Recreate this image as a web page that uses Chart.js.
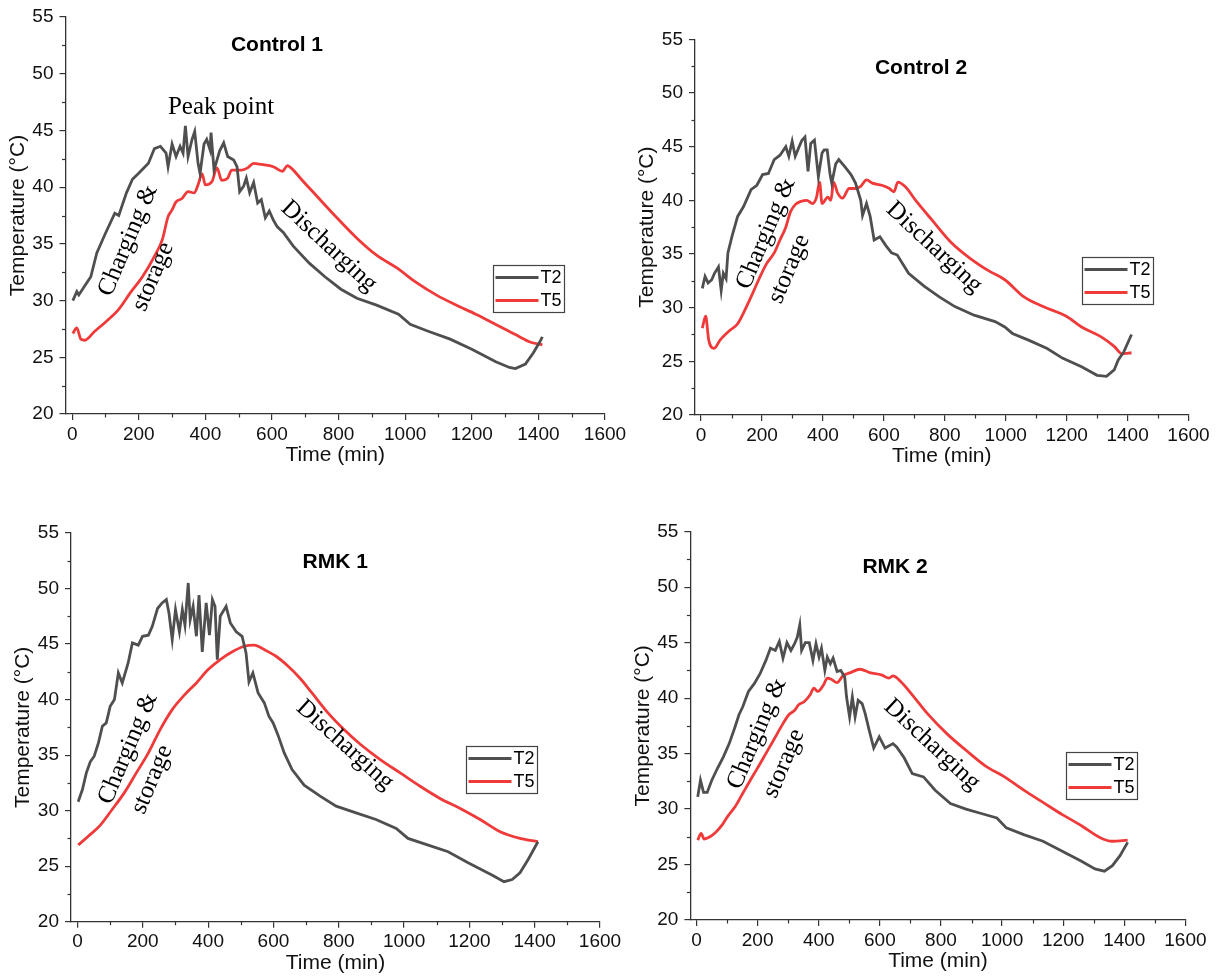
<!DOCTYPE html>
<html>
<head>
<meta charset="utf-8">
<script src="https://cdn.jsdelivr.net/npm/chart.js@4"></script>
<style>
  html, body { margin: 0; padding: 0; background: #fff; }
  #wrap { position: relative; width: 1223px; height: 979px; overflow: hidden; }
  #wrap canvas { position: absolute; left: 0; top: 0; }
</style>
</head>
<body>
<div id="wrap">
  <canvas id="c1" width="1223" height="979"></canvas>
  <canvas id="c2" width="1223" height="979"></canvas>
  <canvas id="c3" width="1223" height="979"></canvas>
  <canvas id="c4" width="1223" height="979"></canvas>
</div>
<script>
// --- Data: [time (min), temperature (°C)] ---
const control1T2 = [[2,30.0],[14,30.8],[20,30.5],[38,31.3],[56,32.1],[74,34.2],[98,35.8],[128,37.7],[140,37.5],[163,39.5],[181,40.7],[199,41.2],[229,42.1],[247,43.4],[265,43.6],[282,43.0],[288,41.8],[300,43.8],[312,42.7],[324,43.6],[333,43.0],[340,45.4],[348,42.7],[360,44.2],[368,44.9],[378,42.1],[384,41.2],[396,43.8],[404,44.2],[414,43.3],[417,44.8],[426,41.5],[435,42.4],[443,43.2],[455,43.9],[467,42.7],[485,42.4],[495,41.8],[503,39.6],[515,40.1],[523,40.8],[533,39.5],[545,40.4],[557,38.6],[568,38.9],[580,37.3],[592,37.9],[604,37.1],[616,36.5],[634,36.0],[664,34.8],[712,33.3],[759,32.1],[807,31.0],[855,30.2],[914,29.6],[980,28.8],[1015,27.9],[1069,27.3],[1135,26.6],[1200,25.7],[1272,24.6],[1313,24.1],[1331,24.0],[1361,24.4],[1385,25.4],[1403,26.3],[1412,26.8]];
const control1T5 = [[2,27.1],[14,27.6],[26,26.6],[38,26.5],[68,27.3],[104,28.2],[139,29.2],[175,30.7],[211,32.1],[247,33.9],[271,35.4],[288,37.4],[300,38.0],[312,38.7],[330,39.0],[348,39.6],[366,39.5],[378,40.2],[390,41.2],[400,40.2],[420,40.5],[435,41.7],[449,40.6],[467,40.8],[479,41.5],[509,41.5],[527,41.7],[545,42.1],[568,42.0],[604,41.8],[632,41.4],[646,41.9],[664,41.5],[688,40.7],[735,39.2],[795,37.3],[855,35.5],[914,34.0],[974,32.9],[1033,31.6],[1093,30.5],[1153,29.6],[1212,28.8],[1272,27.9],[1331,27.0],[1379,26.3],[1412,26.1]];

const control2T2 = [[4,31.8],[13,32.9],[23,32.3],[35,32.6],[44,33.2],[57,33.8],[66,31.6],[73,33.2],[82,32.7],[88,35.1],[101,36.6],[120,38.5],[139,39.4],[164,41.0],[183,41.4],[202,42.4],[221,42.5],[240,43.8],[259,44.2],[278,45.0],[288,44.1],[299,45.5],[309,44.1],[322,45.0],[331,45.6],[341,45.9],[351,42.7],[360,45.3],[372,45.6],[385,42.2],[397,44.4],[404,44.7],[414,44.7],[423,42.5],[429,41.6],[442,43.4],[452,43.8],[473,43.1],[492,42.4],[507,41.6],[524,40.0],[530,38.6],[543,39.7],[555,38.5],[568,36.3],[587,36.6],[606,35.8],[625,35.1],[644,34.9],[681,33.2],[732,32.0],[782,31.0],[833,30.1],[896,29.3],[965,28.7],[997,28.2],[1022,27.6],[1073,27.0],[1136,26.2],[1186,25.3],[1249,24.5],[1300,23.7],[1331,23.6],[1356,24.2],[1369,25.1],[1388,25.9],[1413,27.5]];
const control2T5 = [[4,28.1],[15,29.2],[25,27.0],[42,26.2],[63,27.0],[95,27.9],[120,28.5],[139,29.5],[164,31.0],[189,32.6],[215,34.1],[240,35.1],[259,36.3],[278,37.5],[293,38.9],[309,39.6],[328,39.9],[347,40.0],[366,39.7],[379,40.3],[389,41.7],[397,39.7],[416,40.3],[426,40.0],[435,41.7],[448,40.7],[464,40.2],[486,41.1],[505,41.1],[524,41.3],[543,41.9],[562,41.6],[593,41.4],[618,41.1],[633,40.8],[646,41.7],[669,41.3],[707,39.9],[757,38.2],[820,36.1],[883,34.6],[946,33.4],[997,32.6],[1060,31.0],[1123,30.1],[1199,29.2],[1249,28.2],[1312,27.3],[1356,26.4],[1382,25.7],[1413,25.8]];

const rmk1T2 = [[2,30.8],[15,31.9],[27,33.4],[39,34.4],[51,34.9],[64,36.1],[76,37.6],[88,37.9],[100,39.4],[113,40.0],[125,42.4],[137,41.5],[155,43.3],[168,45.1],[186,44.9],[199,45.7],[217,45.8],[229,46.6],[245,48.2],[259,48.7],[272,49.0],[280,47.8],[290,45.4],[300,48.1],[312,46.1],[321,48.1],[329,46.7],[339,50.5],[345,47.2],[354,48.4],[364,45.7],[372,49.4],[382,44.3],[394,48.7],[404,45.8],[413,49.0],[421,48.4],[428,43.6],[437,47.5],[455,48.4],[468,46.9],[486,46.1],[504,45.7],[516,44.2],[525,41.6],[537,42.4],[553,40.6],[572,39.7],[586,38.5],[599,37.9],[614,36.8],[633,35.2],[657,33.7],[694,32.3],[743,31.3],[792,30.4],[853,29.8],[914,29.2],[976,28.4],[1012,27.5],[1074,26.9],[1135,26.3],[1196,25.3],[1269,24.2],[1306,23.6],[1331,23.8],[1355,24.4],[1380,25.6],[1410,27.2]];
const rmk1T5 = [[2,26.9],[33,27.7],[70,28.7],[106,30.1],[143,31.6],[180,33.4],[217,35.2],[253,37.3],[290,39.1],[327,40.4],[364,41.5],[400,42.7],[437,43.6],[474,44.3],[510,44.8],[541,44.9],[572,44.5],[608,43.9],[645,43.0],[682,41.9],[718,40.6],[767,38.8],[816,37.3],[865,36.0],[927,34.6],[988,33.4],[1049,32.2],[1110,31.1],[1172,30.2],[1233,29.2],[1294,28.1],[1355,27.5],[1410,27.2]];

const rmk2T2 = [[4,31.1],[13,32.6],[23,31.5],[35,31.5],[50,32.6],[69,33.7],[88,34.7],[107,35.9],[126,37.4],[139,38.5],[151,39.2],[170,40.6],[189,41.3],[208,42.2],[227,43.4],[242,44.5],[258,44.3],[271,45.1],[283,43.6],[296,45.0],[309,44.3],[321,44.9],[330,45.5],[338,46.6],[344,44.3],[356,45.0],[369,45.0],[381,43.4],[391,44.9],[401,43.7],[409,44.5],[420,42.5],[428,43.7],[438,43.1],[447,43.6],[460,42.4],[472,42.5],[485,41.9],[491,40.1],[501,38.3],[510,40.1],[519,38.3],[529,39.8],[542,39.5],[552,38.6],[566,37.0],[580,35.5],[598,36.5],[617,35.5],[643,35.9],[655,35.6],[680,34.6],[706,33.2],[743,32.9],[781,31.7],[831,30.5],[882,30.0],[932,29.6],[983,29.2],[1014,28.3],[1071,27.7],[1134,27.1],[1197,26.2],[1260,25.3],[1304,24.6],[1335,24.4],[1361,24.9],[1386,25.8],[1411,27.0]];
const rmk2T5 = [[4,27.2],[15,27.8],[25,27.3],[44,27.5],[63,27.9],[82,28.5],[101,29.3],[126,30.2],[151,31.4],[176,32.6],[202,33.8],[227,35.0],[252,36.2],[283,37.7],[302,38.5],[321,38.9],[334,39.4],[353,39.7],[372,40.3],[384,40.9],[397,40.6],[416,41.2],[428,41.8],[441,41.7],[460,41.4],[479,42.0],[504,42.3],[535,42.6],[567,42.3],[605,42.1],[630,41.8],[643,42.0],[668,41.5],[706,40.3],[756,38.6],[819,36.8],[882,35.3],[945,33.9],[1008,32.9],[1071,31.7],[1134,30.6],[1197,29.5],[1260,28.5],[1323,27.4],[1361,27.1],[1411,27.2]];

// axis ticks
const xTickValues = [0, 200, 400, 600, 800, 1000, 1200, 1400, 1600];
const yTickValues = [20, 25, 30, 35, 40, 45, 50, 55];
const xMinorTicks = [100, 300, 500, 700, 900, 1100, 1300, 1500];
const yMinorTicks = [22.5, 27.5, 32.5, 37.5, 42.5, 47.5, 52.5];

const seriesLabels = ['T2', 'T5'];
const seriesColors = ['#4f4f4f', '#f03a3a'];

const SANS = "'Liberation Sans', Arial, sans-serif";
const SERIF = "'Liberation Serif', 'Times New Roman', serif";
const AXIS = '#333333';
const Y_AXIS_W = 60;
const X_AXIS_H = 54;

// --- Panels (layout + annotations in data coordinates) ---
const panels = [
    {
        id: 'c1', title: 'Control 1', t2: control1T2, t5: control1T5,
        area: { left: 65.5, right: 605, top: 17, bottom: 414 },
        titleAt: [615, 52.5], legendAt: [1263, 33.1],
        notes: [
            { text: 'Peak point', at: [447, 47.0], angle: 0 },
            { text: 'Charging &', at: [168, 35.3], angle: -67 },
            { text: 'storage', at: [243, 32.1], angle: -67 },
            { text: 'Discharging', at: [771, 34.8], angle: 43 }
        ]
    },
    {
        id: 'c2', title: 'Control 2', t2: control2T2, t5: control2T5,
        area: { left: 695, right: 1188.5, top: 39.3, bottom: 415 },
        titleAt: [722, 52.3], legendAt: [1250, 34.7],
        notes: [
            { text: 'Charging &', at: [213, 36.9], angle: -67 },
            { text: 'storage', at: [289, 33.6], angle: -67 },
            { text: 'Discharging', at: [765, 35.6], angle: 43 }
        ]
    },
    {
        id: 'c3', title: 'RMK 1', t2: rmk1T2, t5: rmk1T5,
        area: { left: 71, right: 600, top: 533, bottom: 921.7 },
        titleAt: [789, 52.4], legendAt: [1190, 35.8],
        notes: [
            { text: 'Charging &', at: [155, 35.6], angle: -67 },
            { text: 'storage', at: [228, 32.8], angle: -67 },
            { text: 'Discharging', at: [819, 35.9], angle: 42 }
        ]
    },
    {
        id: 'c4', title: 'RMK 2', t2: rmk2T2, t5: rmk2T5,
        area: { left: 690.4, right: 1185.4, top: 531.7, bottom: 920 },
        titleAt: [650, 51.8], legendAt: [1209, 35.1],
        notes: [
            { text: 'Charging &', at: [198, 36.8], angle: -67 },
            { text: 'storage', at: [286, 34.1], angle: -67 },
            { text: 'Discharging', at: [771, 35.8], angle: 43 }
        ]
    }
];

// --- Plugin: minor ticks, panel title, annotations, boxed legend ---
const panelText = {
    id: 'panelText',
    afterDraw(chart, args, opts) {
        const ctx = chart.ctx;
        const xs = chart.scales.x, ys = chart.scales.y;
        ctx.save();

        ctx.strokeStyle = AXIS;
        ctx.lineWidth = 1.2;
        xMinorTicks.forEach(v => {
            const px = Math.round(xs.getPixelForValue(v)) + 0.5;
            ctx.beginPath(); ctx.moveTo(px, ys.bottom); ctx.lineTo(px, ys.bottom + 3.5); ctx.stroke();
        });
        yMinorTicks.forEach(v => {
            const py = Math.round(ys.getPixelForValue(v)) + 0.5;
            ctx.beginPath(); ctx.moveTo(xs.left, py); ctx.lineTo(xs.left - 3.5, py); ctx.stroke();
        });

        ctx.fillStyle = '#000';
        ctx.textAlign = 'center';
        ctx.textBaseline = 'middle';
        ctx.font = 'bold 21px ' + SANS;
        ctx.fillText(opts.title, xs.getPixelForValue(opts.titleAt[0]), ys.getPixelForValue(opts.titleAt[1]));

        ctx.font = '25px ' + SERIF;
        opts.notes.forEach(n => {
            ctx.save();
            ctx.translate(xs.getPixelForValue(n.at[0]), ys.getPixelForValue(n.at[1]));
            ctx.rotate(n.angle * Math.PI / 180);
            ctx.fillText(n.text, 0, 0);
            ctx.restore();
        });

        // legend box
        const lx = Math.round(xs.getPixelForValue(opts.legendAt[0])) + 0.5;
        const ly = Math.round(ys.getPixelForValue(opts.legendAt[1])) + 0.5;
        ctx.strokeStyle = '#444';
        ctx.lineWidth = 1.2;
        ctx.strokeRect(lx, ly, 71, 47);
        ctx.font = '18px ' + SANS;
        ctx.textAlign = 'left';
        chart.data.datasets.forEach((ds, i) => {
            const rowY = ly + 12 + i * 23;
            ctx.strokeStyle = ds.borderColor;
            ctx.lineWidth = 3;
            ctx.beginPath(); ctx.moveTo(lx + 2, rowY); ctx.lineTo(lx + 45, rowY); ctx.stroke();
            ctx.fillStyle = '#000';
            ctx.fillText(ds.label, lx + 47, rowY + 1);
        });
        ctx.restore();
    }
};

function fixAxisSize(scale, key, size) {
    scale[key] = size;
    scale.paddingLeft = 0; scale.paddingRight = 0;
    scale.paddingTop = 0; scale.paddingBottom = 0;
}

function makeChart(p) {
    const toXY = arr => arr.map(([x, y]) => ({ x: x, y: y }));
    return new Chart(document.getElementById(p.id), {
        type: 'line',
        data: {
            datasets: [p.t2, p.t5].map((d, i) => ({
                label: seriesLabels[i],
                data: toXY(d),
                borderColor: seriesColors[i],
                borderWidth: 2.8,
                pointRadius: 0,
                cubicInterpolationMode: i === 1 ? 'monotone' : 'default',
                tension: i === 1 ? 0.4 : 0,
                fill: false
            }))
        },
        options: {
            responsive: false,
            animation: false,
            events: [],
            layout: {
                autoPadding: false,
                padding: {
                    left: p.area.left - Y_AXIS_W,
                    right: 1223 - p.area.right,
                    top: p.area.top,
                    bottom: 979 - p.area.bottom - X_AXIS_H
                }
            },
            plugins: {
                legend: { display: false },
                tooltip: { enabled: false },
                panelText: { title: p.title, titleAt: p.titleAt, legendAt: p.legendAt, notes: p.notes }
            },
            scales: {
                x: {
                    type: 'linear', min: -20, max: 1600,
                    afterFit: s => fixAxisSize(s, 'height', X_AXIS_H),
                    afterBuildTicks: s => { s.ticks = xTickValues.map(v => ({ value: v })); },
                    ticks: { maxRotation: 0, autoSkip: false, padding: 3, color: '#111', font: { family: SANS, size: 19 }, callback: v => String(v) },
                    grid: { drawOnChartArea: false, tickLength: 6, color: AXIS, lineWidth: 1.2 },
                    border: { display: true, color: AXIS, width: 1.3 },
                    title: { display: true, text: 'Time (min)', color: '#111', padding: 0, font: { family: SANS, size: 21 } }
                },
                y: {
                    type: 'linear', min: 20, max: 55,
                    afterFit: s => fixAxisSize(s, 'width', Y_AXIS_W),
                    afterBuildTicks: s => { s.ticks = yTickValues.map(v => ({ value: v })); },
                    ticks: { padding: 6, color: '#111', font: { family: SANS, size: 19 }, callback: v => String(v) },
                    grid: { drawOnChartArea: false, tickLength: 6, color: AXIS, lineWidth: 1.2 },
                    border: { display: true, color: AXIS, width: 1.3 },
                    title: { display: true, text: 'Temperature (°C)', color: '#111', padding: 0, font: { family: SANS, size: 21 } }
                }
            }
        },
        plugins: [panelText]
    });
}

panels.forEach(makeChart);
</script>
</body>
</html>
